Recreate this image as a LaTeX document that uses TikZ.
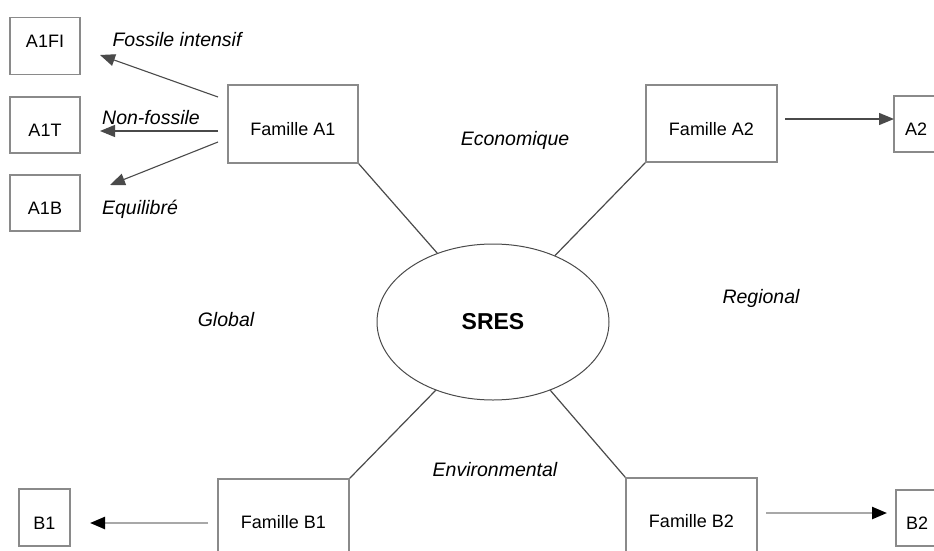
\documentclass[tikz,border=0pt]{standalone}
\usepackage{fontspec}
\setmainfont{Liberation Sans}
\usetikzlibrary{shapes.geometric,arrows.meta}
\definecolor{boxgray}{HTML}{8A8A8A}
\definecolor{linegray}{HTML}{4A4A4A}
\definecolor{arrgray}{HTML}{A8A8A8}
\tikzset{
  fbox/.style={draw=boxgray,line width=1.6pt,rectangle,inner sep=0pt,font=\fontsize{18}{20}\selectfont},
  lowtext/.style={text height=23pt,text depth=0pt},
  hightext/.style={text height=13pt,text depth=10pt},
  midtext/.style={text height=13pt,text depth=0pt},
  lbl/.style={font=\fontsize{19.5}{22}\selectfont\itshape,inner sep=0pt},
  spoke/.style={draw=linegray,line width=1.2pt},
  thinarr/.style={draw=linegray,line width=1.1pt,-{Triangle[length=15pt,width=12pt]}},
  thickarr/.style={draw=arrgray,line width=2.4pt,-{Triangle[length=15pt,width=12pt,fill=black,color=black]}},
  darkarr/.style={draw=linegray,line width=1.4pt,-{Triangle[length=15pt,width=12pt]}},
}
\begin{document}
\begin{tikzpicture}[x=1pt,y=-1pt]
\clip (0,0) rectangle (934,551);
\fill[white] (0,0) rectangle (934,551);
% left A1 boxes
\node[fbox,hightext,minimum width=70pt,minimum height=57pt] (a1fi) at (45,46) {A1FI};
\node[fbox,lowtext,minimum width=70pt,minimum height=56pt] (a1t) at (45,125) {A1T};
\node[fbox,lowtext,minimum width=70pt,minimum height=56pt] (a1b) at (45,203) {A1B};
% family boxes
\node[fbox,lowtext,minimum width=130pt,minimum height=78pt] (fa1) at (293,124) {Famille A1};
\node[fbox,lowtext,minimum width=131pt,minimum height=77pt] (fa2) at (711.5,123.5) {Famille A2};
\node[fbox,midtext,minimum width=131pt,minimum height=86pt] (fb1) at (283.5,522) {Famille B1};
\node[fbox,midtext,minimum width=131pt,minimum height=86pt] (fb2) at (691.5,521) {Famille B2};
% right / bottom small boxes
\node[fbox,lowtext,minimum width=50pt,minimum height=56pt,text width=50pt,align=left] (a2) at (919,124) {\hspace*{11pt}A2};
\node[fbox,lowtext,minimum width=51pt,minimum height=57pt] (b1) at (44.5,517.5) {B1};
\node[fbox,lowtext,minimum width=51pt,minimum height=56pt,text width=51pt,align=left] (b2) at (921.5,518) {\hspace*{10pt}B2};
% central ellipse
\node[ellipse,draw=linegray,line width=1pt,minimum width=232pt,minimum height=156pt,inner sep=0pt,font=\fontsize{23}{26}\selectfont\bfseries] (sres) at (493,322) {SRES};
% spokes
\draw[spoke] (fa1.south east) -- (sres.129);
\draw[spoke] (fa2.south west) -- (sres.47);
\draw[spoke] (fb1.north east) -- (sres.230);
\draw[spoke] (fb2.north west) -- (sres.310);
% A1 arrows
\coordinate (s1) at (218,97);
\coordinate (s2) at (218,131);
\coordinate (s3) at (218,142);
\coordinate (t1) at (100,55);
\coordinate (t2) at (100,131);
\coordinate (t3) at (110,185);
\draw[thinarr] (s1) -- (t1);
\draw[thinarr] (s2) -- (t2);
\draw[thinarr] (s3) -- (t3);
% A2 arrow
\coordinate (s4) at (785,119);
\coordinate (t4) at (894,119);
\draw[darkarr] (s4) -- (t4);
% B arrows
\coordinate (s5) at (208,523);
\coordinate (t5) at (90,523);
\draw[thickarr] (s5) -- (t5);
\coordinate (s6) at (766,513);
\coordinate (t6) at (887,513);
\draw[thickarr] (s6) -- (t6);
% labels
\node[lbl] (l1) at (177,40) {Fossile intensif};
\node[lbl] (l2) at (151,118) {Non-fossile};
\node[lbl] (l3) at (140,209) {Equilibré};
\node[lbl] (l4) at (515,140) {Economique};
\node[lbl] (l5) at (761,298) {Regional};
\node[lbl] (l6) at (226,320) {Global};
\node[lbl] (l7) at (495,470) {Environmental};
\end{tikzpicture}
\end{document}
